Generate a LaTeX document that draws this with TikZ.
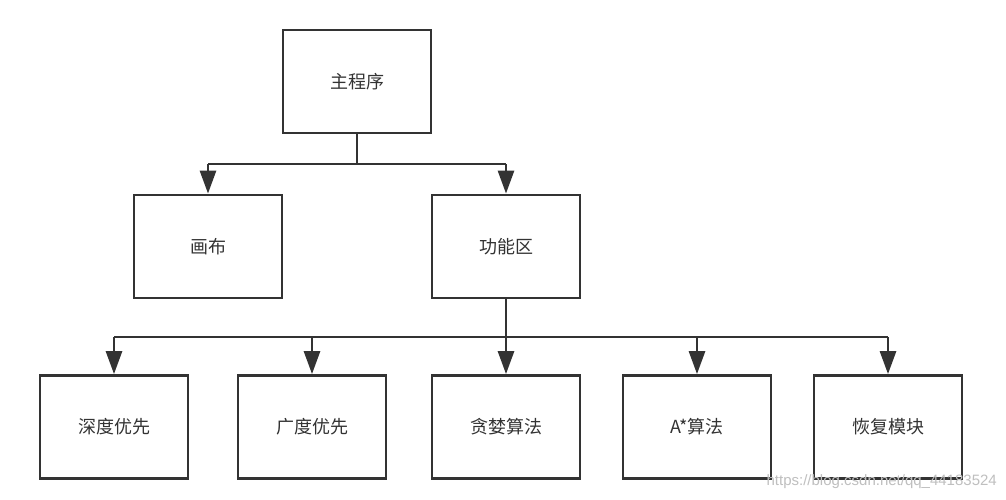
\documentclass[tikz,border=0pt]{standalone}
\usepackage{fontspec}
\setmainfont{Noto Sans CJK SC}
\newfontfamily\wmfont{Liberation Sans}
\usetikzlibrary{arrows.meta}
\definecolor{ln}{HTML}{333333}
\begin{document}
\begin{tikzpicture}[x=1pt,y=-1pt,
  box/.style={draw=ln,line width=2.8pt,minimum width=148pt,minimum height=103pt,inner sep=0pt,
    font=\fontsize{18}{20}\selectfont,text=ln},
  conn/.style={draw=ln,line width=2.8pt},
  arr/.style={conn,-{Triangle[length=23pt,width=16pt]}}]
\useasboundingbox[fill=white] (0,0) rectangle (1006,500);
\node[box] (main) at (357,81.5) {主程序};
\node[box] (canvas) at (208,246.5) {画布};
\node[box] (func) at (506,246.5) {功能区};
\node[box] (dfs) at (114,427) {深度优先};
\node[box] (bfs) at (312,427) {广度优先};
\node[box] (greedy) at (506,427) {贪婪算法};
\node[box] (astar) at (697,427) {A*算法};
\node[box] (restore) at (888,427) {恢复模块};
\coordinate (j1) at (357,164);
\coordinate (j2) at (506,337);
\draw[conn] (main.south) -- (j1);
\draw[conn] (canvas.north |- j1) -- (func.north |- j1);
\draw[arr] (canvas.north |- j1) -- (canvas.north);
\draw[arr] (func.north |- j1) -- (func.north);
\draw[conn] (func.south) -- (j2);
\draw[conn] (dfs.north |- j2) -- (restore.north |- j2);
\draw[arr] (dfs.north |- j2) -- (dfs.north);
\draw[arr] (bfs.north |- j2) -- (bfs.north);
\draw[arr] (greedy.north |- j2) -- (greedy.north);
\draw[arr] (astar.north |- j2) -- (astar.north);
\draw[arr] (restore.north |- j2) -- (restore.north);
\node[anchor=east,text=black!25,font=\wmfont\fontsize{15}{16}\selectfont,inner sep=0pt] (wm) at (997,482) {https://blog.csdn.net/qq\_44183524};
\end{tikzpicture}
\end{document}
